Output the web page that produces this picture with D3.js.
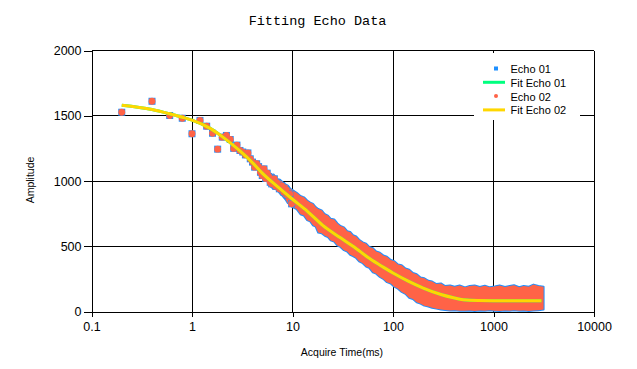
<!DOCTYPE html>
<html><head><meta charset="utf-8">
<script src="https://cdn.jsdelivr.net/npm/d3@7"></script>
<style>body{margin:0;background:#fff} svg{display:block}</style>
</head><body><svg id="c" width="637" height="369"></svg>
<script>
const chartTitle = "Fitting Echo Data";
const xTitle = "Acquire Time(ms)";
const yTitle = "Amplitude";
const seriesNames = ["Echo 01", "Fit Echo 01", "Echo 02", "Fit Echo 02"];
const xTickValues = [0.1, 1, 10, 100, 1000, 10000];
const xTickLabels = ["0.1", "1", "10", "100", "1000", "10000"];
const yTickValues = [0, 500, 1000, 1500, 2000];
const yTickLabels = ["0", "500", "1000", "1500", "2000"];

// individually visible echo points (early times), Echo 01 and Echo 02 coincide
const pointTimes = [0.2,0.4,0.6,0.8,1.0,1.2,1.4,1.6,1.8,2.0,2.2,2.4,2.6,2.8,3.0,3.2,3.4,3.6,3.8,4.0,4.2,4.4,4.6,4.8,5.0,5.2,5.4,5.6,5.8,6.0,6.2,6.4,6.6,6.8,7.0,7.4,7.8,8.2,8.6,9.0,9.4,9.8];
const pointAmps  = [1527,1611,1502,1481,1362,1464,1420,1366,1244,1336,1349,1318,1250,1275,1234,1222,1200,1215,1170,1145,1106,1132,1110,1067,1042,1093,1020,1060,1035,990,978,1005,1017,960,985,940,965,914,935,889,900,825];

// dense part of the echo data: upper / lower edge of the marker band
const bandTimes = [6,6.5,7,7.5,8,8.5,9,9.5,10,11,12,13,14,15,16,17,18,19.5,21,22.5,24,26,28,30,32.5,35,37.5,40,43,46,50,54,58,63,68,74,80,87,95,103,112,122,133,145,158,172,188,205,225,245,270,300,330,370,410,460,520,580,650,730,820,920,1030,1150,1300,1450,1600,1800,2000,2250,2500,2800,3150];
const bandUpper = [1040,1050,1015,1010,990,975,965,940,930,910,885,875,850,835,825,800,785,775,745,735,710,705,675,655,645,615,610,585,575,550,530,520,495,485,460,450,430,420,395,385,360,355,330,320,295,285,260,255,235,230,210,215,195,200,190,200,185,195,200,188,197,185,192,200,188,195,202,186,196,190,206,195,190];
const bandLower = [960,940,935,905,885,860,830,820,800,785,745,735,700,690,660,650,605,600,580,570,545,535,505,495,470,460,435,425,410,385,370,345,335,300,290,265,250,225,215,190,175,150,135,105,95,70,60,45,38,28,22,15,12,8,10,6,5,8,4,8,5,10,6,4,8,5,10,5,7,4,8,10,15];

// fitted curve (both fits coincide)
const fitTimes = [0.2,0.4,0.6,0.8,1.0,1.5,2.0,3.0,4.0,5.0,7.0,10,14,20,30,40,60,80,100,140,200,300,400,500,700,1000,3000];
const fitAmps  = [1581,1548,1515,1489,1466,1405,1340,1230,1140,1060,960,860,770,660,565,500,400,340,295,235,180,130,105,90,84,83,83];

const colors = {echo01: "#1E90FF", fit01: "#00FF7F", echo02: "#FF6347", fit02: "#FFD700"};

const svg = d3.select("#c");
svg.append("rect").attr("width", 637).attr("height", 369).attr("fill", "#fff");

const x = d3.scaleLog().domain([0.1, 10000]).range([91.5, 594]);
const y = d3.scaleLinear().domain([0, 2000]).range([311.5, 50.5]);

// grid
const grid = svg.append("g").attr("shape-rendering", "crispEdges");
grid.selectAll(".vg").data(xTickValues.slice(1)).join("line")
  .attr("x1", d => x(d)).attr("x2", d => x(d)).attr("y1", y(0)).attr("y2", y(2000))
  .attr("stroke", "#000").attr("stroke-width", 1);
grid.selectAll(".hg").data(yTickValues.slice(1)).join("line")
  .attr("x1", x(0.1)).attr("x2", x(10000)).attr("y1", d => y(d)).attr("y2", d => y(d))
  .attr("stroke", "#000").attr("stroke-width", 1);

// axes
const xAxis = d3.axisBottom(x).tickValues(xTickValues).tickFormat((d, i) => xTickLabels[i]).tickSize(5).tickSizeOuter(0).tickPadding(6);
const yAxis = d3.axisLeft(y).tickValues(yTickValues).tickFormat((d, i) => yTickLabels[i]).tickSize(8).tickSizeOuter(0).tickPadding(2);
const gx = svg.append("g").attr("transform", `translate(0,${y(0)})`).call(xAxis);
const gy = svg.append("g").attr("transform", `translate(${x(0.1)},0)`).call(yAxis);
[gx, gy].forEach(g => {
  g.attr("shape-rendering", "crispEdges");
  g.selectAll("path,line").attr("stroke", "#000");
  g.selectAll("text").attr("fill", "#000").style("font-family", "'Liberation Sans', Arial, sans-serif").style("font-size", "12.5px");
});

// echo band (Echo 01 under, Echo 02 on top)
const band = d3.area().x((d, i) => x(bandTimes[i])).y0((d, i) => y(bandLower[i])).y1((d, i) => y(bandUpper[i])).curve(d3.curveLinear);
svg.append("path").datum(bandTimes).attr("d", band).attr("fill", colors.echo01).attr("stroke", colors.echo01).attr("stroke-width", 2).attr("stroke-linejoin", "round");
svg.append("path").datum(bandTimes).attr("d", band).attr("fill", colors.echo02);

// individual points
svg.append("g").selectAll("rect").data(pointTimes).join("rect")
  .attr("x", (d) => x(d) - 3.5).attr("y", (d, i) => y(pointAmps[i]) - 3.5)
  .attr("width", 7).attr("height", 7).attr("fill", colors.echo01);
svg.append("g").selectAll("circle").data(pointTimes).join("circle")
  .attr("cx", (d) => x(d)).attr("cy", (d, i) => y(pointAmps[i])).attr("r", 3.4)
  .attr("fill", colors.echo02);

// fits
const line = d3.line().x((d, i) => x(fitTimes[i])).y((d, i) => y(fitAmps[i])).curve(d3.curveMonotoneX);
svg.append("path").datum(fitTimes).attr("d", line).attr("fill", "none").attr("stroke", colors.fit01).attr("stroke-width", 3);
svg.append("path").datum(fitTimes).attr("d", line).attr("fill", "none").attr("stroke", colors.fit02).attr("stroke-width", 3);

// title & axis titles
svg.append("text").attr("x", 317.5).attr("y", 25).attr("text-anchor", "middle")
  .style("font-family", "'Liberation Mono', 'DejaVu Sans Mono', monospace").style("font-size", "13.5px").attr("fill", "#000").text(chartTitle);
svg.append("text").attr("x", 342).attr("y", 356).attr("text-anchor", "middle")
  .style("font-family", "'Liberation Sans', Arial, sans-serif").style("font-size", "10.5px").attr("fill", "#000").text(xTitle);
svg.append("text").attr("transform", "translate(34,180) rotate(-90)").attr("text-anchor", "middle")
  .style("font-family", "'Liberation Sans', Arial, sans-serif").style("font-size", "10.5px").attr("fill", "#000").text(yTitle);

// legend
const lg = svg.append("g");
lg.append("rect").attr("x", 474).attr("y", 53).attr("width", 106).attr("height", 67).attr("fill", "#fff");
const rows = lg.selectAll("g.row").data(seriesNames).join("g").attr("transform", (d, i) => `translate(0,${73 + i * 13.8})`);
rows.append("text").attr("x", 510.5).attr("y", 0).text(d => d)
  .style("font-family", "'Liberation Sans', Arial, sans-serif").style("font-size", "11px").attr("fill", "#000");
rows.each(function(d, i) {
  const g = d3.select(this);
  if (i === 0) g.append("rect").attr("x", 494).attr("y", -6.5).attr("width", 4).attr("height", 4).attr("fill", colors.echo01);
  if (i === 2) g.append("circle").attr("cx", 496).attr("cy", -4.5).attr("r", 2).attr("fill", colors.echo02);
  if (i === 1 || i === 3) g.append("line").attr("x1", 483).attr("x2", 505).attr("y1", -4.5).attr("y2", -4.5)
    .attr("stroke", i === 1 ? colors.fit01 : colors.fit02).attr("stroke-width", 3);
});
</script></body></html>
